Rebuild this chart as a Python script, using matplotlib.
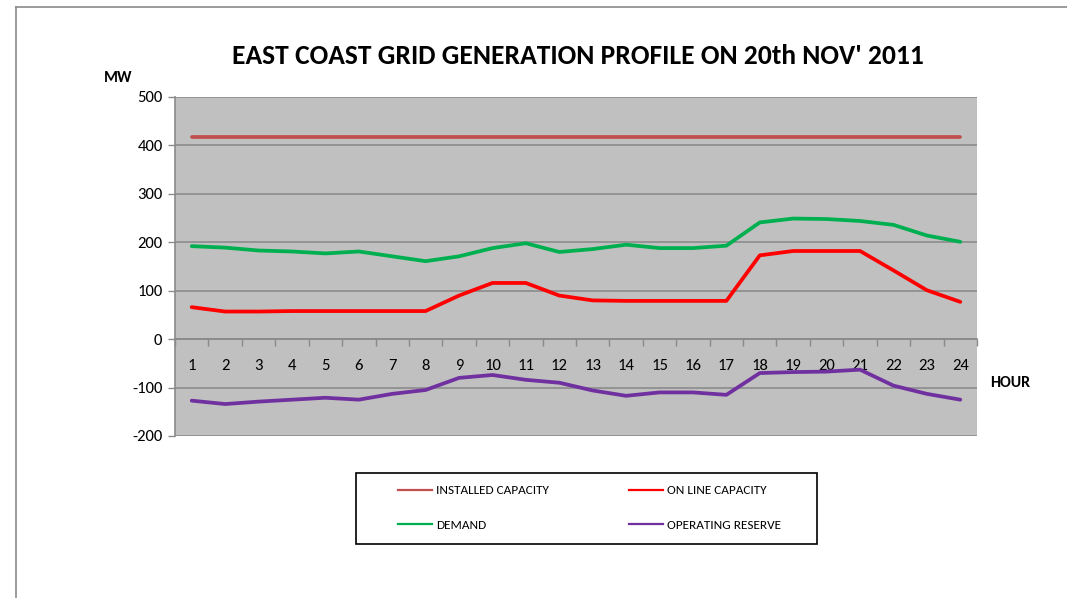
import matplotlib
matplotlib.use("Agg")
import matplotlib.pyplot as plt
from matplotlib.lines import Line2D
from matplotlib.patches import Rectangle

plt.rcParams['font.family'] = ['Carlito', 'Lato', 'DejaVu Sans']
plt.rcParams['axes.unicode_minus'] = False

hours = list(range(1, 25))
installed = [418] * 24
online = [66, 57, 57, 58, 58, 58, 58, 58, 90, 116, 116, 90, 80, 79, 79, 79, 79,
          173, 182, 182, 182, 142, 101, 77]
demand = [192, 189, 183, 181, 177, 181, 171, 161, 171, 188, 198, 180, 186, 195,
          188, 188, 193, 241, 249, 248, 244, 236, 214, 201]
reserve = [-127, -134, -129, -125, -121, -125, -113, -105, -80, -74, -84, -90,
           -106, -117, -110, -110, -115, -70, -68, -67, -63, -96, -113, -125]
yticks = [-200, -100, 0, 100, 200, 300, 400, 500]

W, H = 1067, 598
fig = plt.figure(figsize=(W / 100, H / 100), dpi=100)
fig.patch.set_facecolor('white')

# outer chart border (top and left visible)
fig.add_artist(Line2D([16 / W, 16 / W], [0, 1 - 7 / H], transform=fig.transFigure,
                      color='#8a8a8a', lw=1.2))
fig.add_artist(Line2D([16 / W, 1], [1 - 7 / H, 1 - 7 / H], transform=fig.transFigure,
                      color='#8a8a8a', lw=1.2))

left, right = 175 / W, 977 / W
top, bottom = 1 - 97 / H, 1 - 436 / H
ax = fig.add_axes([left, bottom, right - left, top - bottom])
ax.set_facecolor('#c0c0c0')

lw = 2.7
ax.plot(hours, installed, color='#c0504d', lw=lw, solid_capstyle='round', zorder=3)
ax.plot(hours, online, color='#ff0000', lw=lw, solid_capstyle='round', zorder=3)
ax.plot(hours, demand, color='#00b050', lw=lw, solid_capstyle='round', zorder=3)
ax.plot(hours, reserve, color='#7030a0', lw=lw, solid_capstyle='round', zorder=3)

ax.set_xlim(0.5, 24.5)
ax.set_ylim(-200, 500)
ax.set_yticks(yticks)
ax.yaxis.grid(True, color='#8c8c8c', lw=1.2)
ax.set_axisbelow(True)
ax.tick_params(axis='y', direction='out', length=5, width=1, color='#8a8a8a',
               labelsize=12, pad=4)

for s in ['top', 'right']:
    ax.spines[s].set_visible(False)
ax.spines['left'].set_color('#8a8a8a')
ax.spines['left'].set_linewidth(1.2)
ax.spines['bottom'].set_position(('data', 0))
ax.spines['bottom'].set_color('#8a8a8a')
ax.spines['bottom'].set_linewidth(1.2)

ax.set_xticks([h + 0.5 for h in range(0, 25)])
ax.set_xticklabels([])
ax.set_xticks(hours, minor=True)
ax.set_xticklabels([str(h) for h in hours], minor=True)
ax.tick_params(axis='x', which='major', direction='out', length=5, width=1,
               color='#8a8a8a')
ax.tick_params(axis='x', which='minor', length=0, labelsize=12, pad=14.5)

fig.text(578 / W, 1 - 56 / H, "EAST COAST GRID GENERATION PROFILE ON 20th NOV' 2011",
         ha='center', va='center', fontsize=19.8, fontweight='bold')
fig.text(118 / W, 1 - 78 / H, 'MW', ha='center', va='center', fontsize=11.5,
         fontweight='bold')
fig.text(1010 / W, 1 - 383 / H, 'HOUR', ha='center', va='center', fontsize=11.5,
         fontweight='bold')

# legend box
fig.add_artist(Rectangle((356 / W, 1 - 544 / H), (817 - 356) / W, (544 - 473) / H,
                         transform=fig.transFigure, fill=False, edgecolor='black',
                         lw=1.2))
handles = [Line2D([], [], color='#c0504d', lw=1.6),
           Line2D([], [], color='#00b050', lw=1.6),
           Line2D([], [], color='#ff0000', lw=1.6),
           Line2D([], [], color='#7030a0', lw=1.6)]
labels = ['INSTALLED CAPACITY', 'DEMAND', 'ON LINE CAPACITY', 'OPERATING RESERVE']
fig.legend(handles, labels, ncol=2, loc='center',
           bbox_to_anchor=((398 + 781) / 2 / W, 1 - 508 / H),
           fontsize=9.5, frameon=False,
           handlelength=2.6, columnspacing=6.0, labelspacing=1.75,
           borderpad=0.0, handletextpad=0.3)

fig.savefig('out.png', dpi=100, facecolor='white')
